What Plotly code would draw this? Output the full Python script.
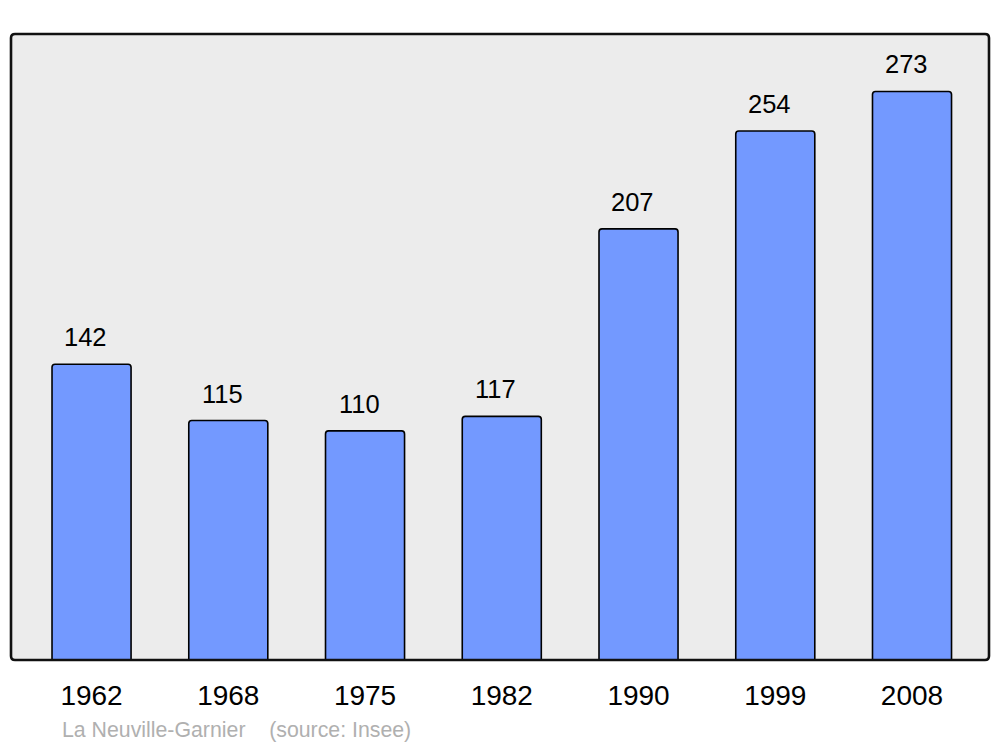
import plotly.graph_objects as go

years = ["1962", "1968", "1975", "1982", "1990", "1999", "2008"]
population = [142, 115, 110, 117, 207, 254, 273]
place = "La Neuville-Garnier"
source = "(source: Insee)"

FONT = "Liberation Sans, Arial, sans-serif"

fig = go.Figure()
fig.add_trace(go.Bar(
    x=list(range(len(years))), y=population,
    width=0.578,
    marker=dict(color="#7399ff", line=dict(color="black", width=1.6), cornerradius=3),
    hoverinfo="skip",
))

for i, v in enumerate(population):
    fig.add_annotation(x=i, y=v, xref="x", yref="y", text=str(v), showarrow=False,
                       yshift=27, xshift=-6, yanchor="middle",
                       font=dict(size=25.5, color="black", family=FONT))

rx = 4 / 978
ry = 4 / 626
path = (f"M {rx},0 L {1-rx},0 Q 1,0 1,{ry} L 1,{1-ry} Q 1,1 {1-rx},1 "
        f"L {rx},1 Q 0,1 0,{1-ry} L 0,{ry} Q 0,0 {rx},0 Z")
fig.add_shape(type="path", path=path, xref="paper", yref="paper",
              fillcolor="#ececec", line=dict(width=0), layer="below")
fig.add_shape(type="path", path=path, xref="paper", yref="paper",
              fillcolor="rgba(0,0,0,0)", line=dict(color="#111111", width=2.6), layer="above")

fig.add_annotation(xref="paper", yref="paper", x=(60 - 11) / 978, y=-(730 - 660) / 626,
                   text=place + "\u00a0\u00a0\u00a0\u00a0" + source, showarrow=False,
                   xanchor="left", yanchor="middle",
                   font=dict(size=21.3, color="#b0b0b0", family=FONT))

fig.update_layout(
    width=992, height=739,
    margin=dict(l=3, r=11, t=26, b=87),
    paper_bgcolor="white", plot_bgcolor="rgba(0,0,0,0)",
    showlegend=False,
    font=dict(family=FONT, color="black"),
    xaxis=dict(range=[-0.589, 6.563], showgrid=False, zeroline=False, showline=False,
               tickmode="array", tickvals=list(range(len(years))), ticktext=years,
               ticks="", tickfont=dict(size=28), ticklabelstandoff=16, fixedrange=True),
    yaxis=dict(range=[0, 300.6], showgrid=False, zeroline=False, showline=False,
               showticklabels=False, ticks="", fixedrange=True),
)

fig.write_html("out.html")
